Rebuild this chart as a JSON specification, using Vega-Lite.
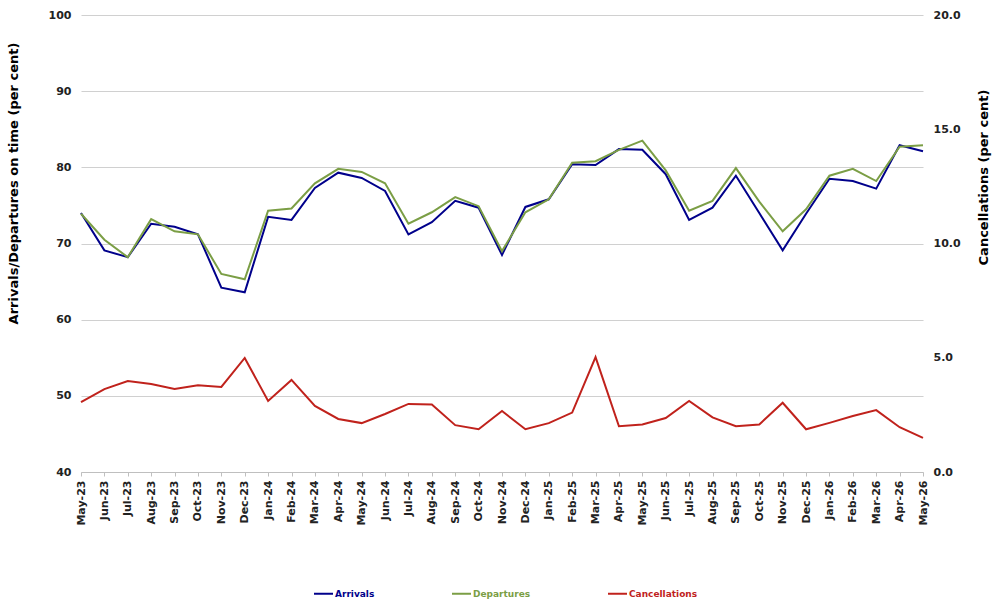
{
  "$schema": "https://vega.github.io/schema/vega-lite/v6.json",
  "width": 842,
  "height": 457,
  "autosize": {"type": "none"},
  "padding": {"left": 81, "top": 15, "right": 77, "bottom": 137},
  "background": "white",
  "config": {
    "view": {"stroke": null},
    "font": "DejaVu Sans",
    "axis": {
      "labelFont": "DejaVu Sans",
      "labelFontWeight": "bold",
      "labelFontSize": 11,
      "labelColor": "#222222",
      "titleFont": "DejaVu Sans",
      "titleFontWeight": "bold",
      "titleFontSize": 13,
      "titleColor": "#000000",
      "gridColor": "#d0d0d0",
      "gridWidth": 1.2
    }
  },
  "data": {
    "values": [
      {"month": "May-23", "Arrivals": 74.0, "Departures": 73.9, "Cancellations": 3.06},
      {"month": "Jun-23", "Arrivals": 69.1, "Departures": 70.5, "Cancellations": 3.63},
      {"month": "Jul-23", "Arrivals": 68.2, "Departures": 68.2, "Cancellations": 3.98},
      {"month": "Aug-23", "Arrivals": 72.6, "Departures": 73.2, "Cancellations": 3.85},
      {"month": "Sep-23", "Arrivals": 72.2, "Departures": 71.6, "Cancellations": 3.63},
      {"month": "Oct-23", "Arrivals": 71.2, "Departures": 71.2, "Cancellations": 3.80},
      {"month": "Nov-23", "Arrivals": 64.2, "Departures": 66.0, "Cancellations": 3.72},
      {"month": "Dec-23", "Arrivals": 63.6, "Departures": 65.3, "Cancellations": 4.99},
      {"month": "Jan-24", "Arrivals": 73.5, "Departures": 74.3, "Cancellations": 3.11},
      {"month": "Feb-24", "Arrivals": 73.1, "Departures": 74.6, "Cancellations": 4.03},
      {"month": "Mar-24", "Arrivals": 77.3, "Departures": 77.9, "Cancellations": 2.89},
      {"month": "Apr-24", "Arrivals": 79.3, "Departures": 79.8, "Cancellations": 2.32},
      {"month": "May-24", "Arrivals": 78.6, "Departures": 79.4, "Cancellations": 2.14},
      {"month": "Jun-24", "Arrivals": 76.9, "Departures": 77.9, "Cancellations": 2.54},
      {"month": "Jul-24", "Arrivals": 71.2, "Departures": 72.6, "Cancellations": 2.98},
      {"month": "Aug-24", "Arrivals": 72.8, "Departures": 74.1, "Cancellations": 2.95},
      {"month": "Sep-24", "Arrivals": 75.6, "Departures": 76.1, "Cancellations": 2.05},
      {"month": "Oct-24", "Arrivals": 74.7, "Departures": 74.9, "Cancellations": 1.87},
      {"month": "Nov-24", "Arrivals": 68.5, "Departures": 69.0, "Cancellations": 2.67},
      {"month": "Dec-24", "Arrivals": 74.8, "Departures": 74.1, "Cancellations": 1.87},
      {"month": "Jan-25", "Arrivals": 75.8, "Departures": 75.8, "Cancellations": 2.14},
      {"month": "Feb-25", "Arrivals": 80.4, "Departures": 80.6, "Cancellations": 2.60},
      {"month": "Mar-25", "Arrivals": 80.3, "Departures": 80.8, "Cancellations": 5.03},
      {"month": "Apr-25", "Arrivals": 82.4, "Departures": 82.3, "Cancellations": 2.00},
      {"month": "May-25", "Arrivals": 82.3, "Departures": 83.5, "Cancellations": 2.08},
      {"month": "Jun-25", "Arrivals": 79.1, "Departures": 79.6, "Cancellations": 2.36},
      {"month": "Jul-25", "Arrivals": 73.1, "Departures": 74.3, "Cancellations": 3.11},
      {"month": "Aug-25", "Arrivals": 74.7, "Departures": 75.6, "Cancellations": 2.39},
      {"month": "Sep-25", "Arrivals": 78.9, "Departures": 79.9, "Cancellations": 2.00},
      {"month": "Oct-25", "Arrivals": 74.0, "Departures": 75.5, "Cancellations": 2.08},
      {"month": "Nov-25", "Arrivals": 69.1, "Departures": 71.6, "Cancellations": 3.03},
      {"month": "Dec-25", "Arrivals": 73.9, "Departures": 74.5, "Cancellations": 1.87},
      {"month": "Jan-26", "Arrivals": 78.5, "Departures": 78.9, "Cancellations": 2.15},
      {"month": "Feb-26", "Arrivals": 78.2, "Departures": 79.8, "Cancellations": 2.45},
      {"month": "Mar-26", "Arrivals": 77.2, "Departures": 78.2, "Cancellations": 2.71},
      {"month": "Apr-26", "Arrivals": 82.9, "Departures": 82.7, "Cancellations": 1.96},
      {"month": "May-26", "Arrivals": 82.1, "Departures": 82.9, "Cancellations": 1.49}
    ]
  },
  "transform": [
    {"fold": ["Arrivals", "Departures", "Cancellations"], "as": ["series", "value"]}
  ],
  "encoding": {
    "x": {
      "field": "month",
      "type": "ordinal",
      "sort": null,
      "scale": {"type": "point", "padding": 0},
      "axis": {
        "title": null,
        "labelAngle": -90,
        "labelAlign": "right",
        "labelBaseline": "middle",
        "labelPadding": 4,
        "tickSize": 4,
        "tickColor": "#bfbfbf",
        "domainColor": "#bfbfbf",
        "grid": false
      }
    },
    "color": {
      "field": "series",
      "type": "nominal",
      "scale": {
        "domain": ["Arrivals", "Departures", "Cancellations"],
        "range": ["#00008b", "#7b9e45", "#c0221c"]
      },
      "legend": {
        "orient": "none",
        "legendX": 232,
        "legendY": 568,
        "direction": "horizontal",
        "title": null,
        "symbolType": "stroke",
        "symbolStrokeWidth": 2,
        "symbolSize": 361,
        "labelFont": "DejaVu Sans",
        "labelFontWeight": "bold",
        "labelFontSize": 9,
        "labelOffset": 1,
        "columnPadding": 73,
        "encode": {
          "labels": {"update": {"fill": {"scale": "color", "field": "value"}}}
        }
      }
    }
  },
  "layer": [
    {
      "transform": [{"filter": "datum.series !== 'Cancellations'"}],
      "mark": {"type": "line", "strokeWidth": 2},
      "encoding": {
        "y": {
          "field": "value",
          "type": "quantitative",
          "scale": {"domain": [40, 100], "nice": false, "zero": false},
          "axis": {
            "title": "Arrivals/Departures on time (per cent)",
            "orient": "left",
            "values": [40, 50, 60, 70, 80, 90, 100],
            "domain": false,
            "ticks": false,
            "labelPadding": 10,
            "titlePadding": 28,
            "titleY": 168,
            "grid": true
          }
        }
      }
    },
    {
      "transform": [{"filter": "datum.series === 'Cancellations'"}],
      "mark": {"type": "line", "strokeWidth": 2},
      "encoding": {
        "y": {
          "field": "value",
          "type": "quantitative",
          "scale": {"domain": [0, 20], "nice": false},
          "axis": {
            "title": "Cancellations (per cent)",
            "orient": "right",
            "values": [0, 5, 10, 15, 20],
            "format": ".1f",
            "domain": false,
            "ticks": false,
            "grid": false,
            "labelPadding": 10,
            "titlePadding": 30,
            "titleAngle": -90,
            "titleY": 162
          }
        }
      }
    }
  ],
  "resolve": {"scale": {"y": "independent"}}
}
